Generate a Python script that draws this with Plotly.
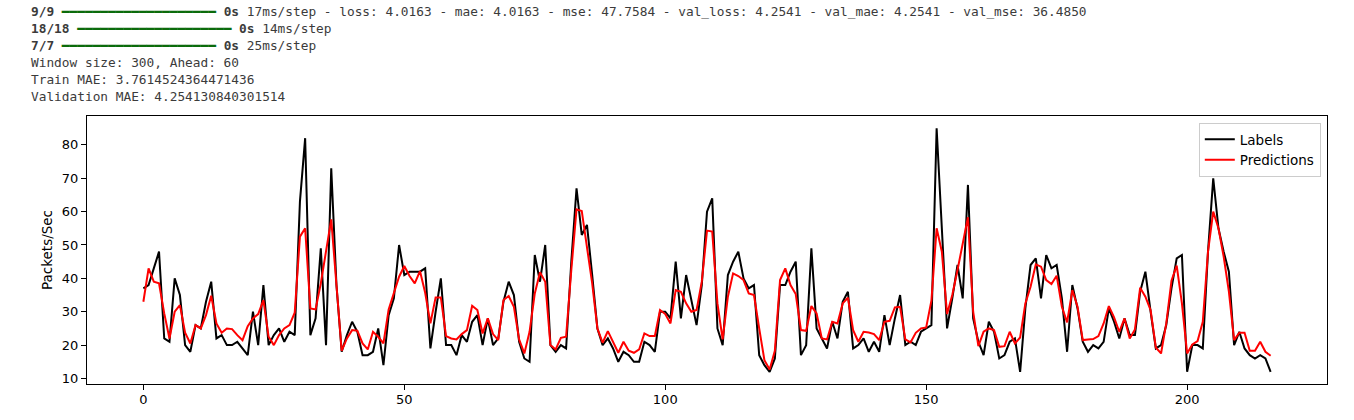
import plotly.graph_objects as go

labels = [37, 38, 43, 48, 22, 21, 40, 35, 20, 18, 26, 25, 33, 39, 22, 23, 20, 20, 21, 19,
          17, 30, 20, 38, 20, 23, 25, 21, 24, 23, 63, 82, 23, 28, 49, 20, 73, 38, 18, 23,
          27, 24, 17, 17, 18, 25, 14, 29, 34, 50, 41, 42, 42, 42, 43, 19, 30, 40, 20, 20,
          17, 23, 21, 27, 29, 20, 28, 20, 22, 33, 39, 35, 21, 16, 15, 47, 39, 50, 20, 18,
          20, 19, 45, 67, 53, 56, 41, 25, 20, 22, 19, 15, 18, 17, 15, 15, 21, 20, 18, 30,
          30, 28, 45, 28, 41, 34, 26, 38, 60, 64, 25, 20, 41, 45, 48, 40, 37, 38, 17, 14,
          12, 16, 38, 38, 42, 45, 17, 20, 49, 25, 22, 19, 27, 22, 33, 36, 19, 20, 22, 18,
          21, 18, 29, 20, 28, 35, 20, 21, 20, 24, 25, 26, 85, 57, 25, 34, 44, 34, 68, 28,
          21, 17, 27, 24, 16, 17, 21, 22, 12, 31, 44, 46, 34, 47, 43, 44, 34, 18, 38, 31,
          21, 18, 20, 19, 21, 31, 27, 22, 28, 23, 23, 36, 42, 30, 19, 20, 26, 37, 46, 47,
          12, 20, 20, 19, 48, 70, 55, 48, 42, 20, 24, 19, 17, 16, 17, 16, 12]

predictions = [33, 43, 39, 38.5, 29.5, 22, 30, 32, 23.7, 20.5, 26, 25, 29, 34.8, 26.5, 23.7, 25, 24.8, 23, 21.5,
               25.7, 28, 29.3, 33.5, 22.5, 20, 23, 25, 26, 29.7, 52.5, 55, 31, 30.7, 38.5, 47.5, 57.7, 38, 18.3, 22,
               24.5, 24.3, 20.5, 18.7, 24, 22.5, 20.5, 30.7, 35.7, 40.5, 43.7, 40.7, 38.5, 42.2, 35.7, 26.5, 34.3, 34.3, 22.7, 22,
               21.7, 23.3, 24.5, 31.8, 30.5, 23.5, 28, 23.3, 21.5, 33.5, 34.7, 31.5, 21.7, 17.5, 24, 35.5, 41.8, 39, 20, 18.7,
               22.2, 22.5, 42.5, 60.7, 60.2, 49.5, 38.5, 25, 20.7, 24.2, 21, 17.7, 21, 18.3, 17.7, 18.7, 23.5, 22.7, 22.7, 30.5,
               29.3, 26.5, 36.5, 36, 32.5, 30, 30.5, 39, 54.3, 54, 32.5, 21.7, 34.5, 41.5, 40.7, 39.5, 35.5, 35, 25, 15.5,
               12.7, 18.3, 39.5, 43, 38, 35.3, 24.5, 24.3, 31.7, 29.5, 22, 21.7, 27, 26.5, 32.5, 34.2, 24.5, 21, 24, 23.8,
               23.3, 21.5, 27, 27.3, 31.3, 31.5, 21.7, 20.8, 23.7, 25, 25.3, 33.3, 55, 48, 29.3, 35, 42.5, 51, 58.3, 30,
               19.7, 24, 25, 24.5, 19.5, 19.7, 24, 20.5, 22.3, 32.5, 37.5, 44.2, 43.5, 39.5, 38.3, 40.8, 31.5, 26.8, 36.5, 31.5,
               21.5, 21.7, 21.8, 22.7, 26.5, 31.7, 28.3, 24, 28, 22, 24.7, 37.2, 34.5, 30.5, 19.3, 17.5, 26.5, 39.3, 43.8, 32.5,
               17.5, 20.2, 21.2, 27, 48, 60, 55, 46.5, 36, 21.5, 23.7, 23.7, 18.3, 18.3, 21, 18, 16.8]

steps = list(range(len(labels)))

x_ticks = [0, 50, 100, 150, 200]
y_ticks = [10, 20, 30, 40, 50, 60, 70, 80]

BAR = "\u2501" * 20
GREEN = "#0b6b0b"
log_lines = [
    "<b>9/9</b> <span style='color:" + GREEN + "'><b>" + BAR + "</b></span> <b>0s</b> 17ms/step - loss: 4.0163 - mae: 4.0163 - mse: 47.7584 - val_loss: 4.2541 - val_mae: 4.2541 - val_mse: 36.4850",
    "<b>18/18</b> <span style='color:" + GREEN + "'><b>" + BAR + "</b></span> <b>0s</b> 14ms/step",
    "<b>7/7</b> <span style='color:" + GREEN + "'><b>" + BAR + "</b></span> <b>0s</b> 25ms/step",
    "Window size: 300, Ahead: 60",
    "Train MAE: 3.7614524364471436",
    "Validation MAE: 4.254130840301514",
]

W, H = 1354, 420
L, R, T, B = 87, 27, 116, 36
pw, ph = W - L - R, H - T - B

def px_to_paper(px, py):
    return (px - L) / pw, (H - B - py) / ph

fig = go.Figure()
fig.add_trace(go.Scatter(x=steps, y=labels, mode="lines", name="Labels",
                         line=dict(color="#000000", width=2)))
fig.add_trace(go.Scatter(x=steps, y=predictions, mode="lines", name="Predictions",
                         line=dict(color="#ff0000", width=2)))

n = len(labels) - 1
ymin, ymax = min(min(labels), min(predictions)), max(max(labels), max(predictions))
span = ymax - ymin

fig.update_layout(
    width=W, height=H,
    margin=dict(l=L, r=R, t=T, b=B, pad=0),
    paper_bgcolor="white", plot_bgcolor="white",
    font=dict(family="DejaVu Sans", size=13, color="#000000"),
    showlegend=True,
    legend=dict(x=0.995, y=0.974, xanchor="right", yanchor="top",
                bgcolor="rgba(255,255,255,0.8)", bordercolor="#cccccc", borderwidth=1,
                font=dict(family="DejaVu Sans", size=13.5, color="#000000"),
                tracegroupgap=0),
    xaxis=dict(range=[-0.05 * n, 1.05 * n], tickvals=x_ticks, ticks="outside", ticklen=5,
               tickcolor="black", tickwidth=1, showline=True, linecolor="black", linewidth=1,
               mirror=True, showgrid=False, zeroline=False, ticklabelstandoff=-2,
               tickfont=dict(family="DejaVu Sans", size=13)),
    yaxis=dict(range=[ymin - 0.05 * span, ymax + 0.05 * span], tickvals=y_ticks, ticks="outside",
               ticklen=5, tickcolor="black", tickwidth=1, showline=True, linecolor="black",
               linewidth=1, mirror=True, showgrid=False, zeroline=False,
               tickfont=dict(family="DejaVu Sans", size=13)),
)

annotations = []
for i, line in enumerate(log_lines):
    ax, ay = px_to_paper(29, 11.5 + 17 * i)
    annotations.append(dict(text=line, xref="paper", yref="paper", x=ax, y=ay,
                            xanchor="left", yanchor="middle", showarrow=False, align="left",
                            font=dict(family="DejaVu Sans Mono", size=12.8, color="#3b3b3b")))
tx, ty = px_to_paper(47, 250)
annotations.append(dict(text="Packets/Sec", xref="paper", yref="paper", x=tx, y=ty,
                        xanchor="center", yanchor="middle", showarrow=False, textangle=-90,
                        font=dict(family="DejaVu Sans", size=13.5, color="#000000")))
fig.update_layout(annotations=annotations)

fig.write_html("out.html", config={"displayModeBar": False},
               post_script="document.body.style.margin='0px';")
